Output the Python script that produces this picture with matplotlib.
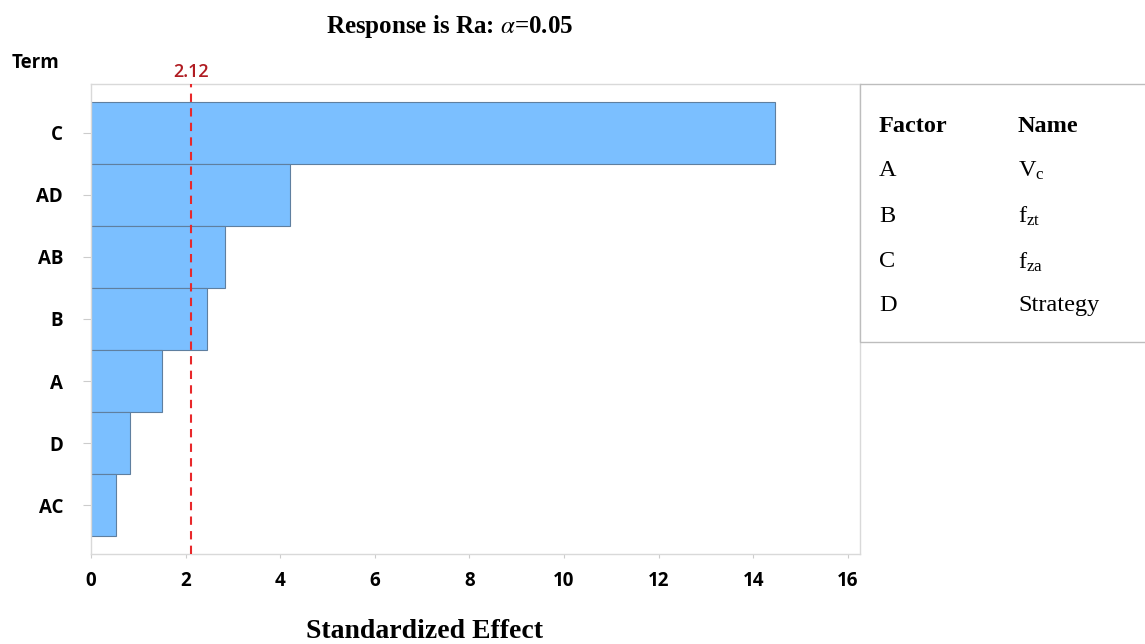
import matplotlib.pyplot as plt
from matplotlib.patches import Rectangle

# Pareto chart of standardized effects (response Ra, alpha = 0.05)
terms = ["C", "AD", "AB", "B", "A", "D", "AC"]
effects = [14.46, 4.20, 2.84, 2.46, 1.50, 0.83, 0.52]
critical = 2.12

factors = ["A", "B", "C", "D"]
names = [r"$\mathregular{V_c}$", r"$\mathregular{f_{zt}}$", r"$\mathregular{f_{za}}$", "Strategy"]

sans = ["Open Sans", "DejaVu Sans"]
serif = ["Liberation Serif", "DejaVu Serif"]
plt.rcParams["mathtext.fontset"] = "stix"

fig = plt.figure(figsize=(11.45, 6.44), dpi=100)
ax = fig.add_axes([91 / 1145, 1 - 554 / 644, (860 - 91) / 1145, (554 - 84) / 644])

pos = list(range(len(terms)))
ax.barh(pos, effects, height=1.0, color="#7bbfff", edgecolor="#5f7f9f", linewidth=0.8, zorder=2)
ax.axvline(critical, color="#e8282b", linestyle=(0, (4, 3)), linewidth=1.5, zorder=3)
ax.text(critical, -0.84, f"{critical:.2f}", color="#b01c22", ha="center", va="bottom",
        fontsize=13, family=sans, fontweight="semibold", clip_on=False)

ax.set_xlim(0, 16.26)
ax.set_ylim(6.79, -0.79)
ax.set_xticks(range(0, 17, 2))
ax.set_yticks(pos)
ax.set_yticklabels(terms)
for lab in ax.get_xticklabels() + ax.get_yticklabels():
    lab.set_family(sans)
    lab.set_fontweight("bold")
    lab.set_fontsize(13.5)
ax.tick_params(axis="y", length=6, color="#cccccc", pad=14)
ax.tick_params(axis="x", length=3, color="#cccccc", pad=9)
for s in ax.spines.values():
    s.set_color("#d9d9d9")
    s.set_linewidth(1.0)

fig.text(12 / 1145, 1 - 63 / 644, "Term", family=sans, fontweight="bold",
         fontsize=13.5, va="center", ha="left")
fig.text(450 / 1145, 1 - 27 / 644, r"Response is Ra: $\alpha$=0.05", family=serif,
         fontweight="bold", fontsize=18, ha="center", va="center")
fig.text(425 / 1145, 1 - 631 / 644, "Standardized Effect", family=serif,
         fontweight="bold", fontsize=20, ha="center", va="center")

# factor name table to the right
fig.patches.append(Rectangle((860 / 1145, 1 - 342 / 644), 290 / 1145, (342 - 84) / 644,
                             transform=fig.transFigure, facecolor="white",
                             edgecolor="#bdbdbd", linewidth=1.0))
fig.text(879 / 1145, 1 - 126 / 644, "Factor", family=serif, fontweight="bold",
         fontsize=17.5, va="center")
fig.text(1018 / 1145, 1 - 126 / 644, "Name", family=serif, fontweight="bold",
         fontsize=17.5, va="center")
row_y = [171, 216, 262, 306]
for f, n, y in zip(factors, names, row_y):
    fig.text(879 / 1145, 1 - y / 644, f, family=serif, fontsize=17.5, va="center")
    fig.text(1018 / 1145, 1 - y / 644, n, family=serif, fontsize=17.5, va="center")

fig.savefig("out.png", dpi=100)
